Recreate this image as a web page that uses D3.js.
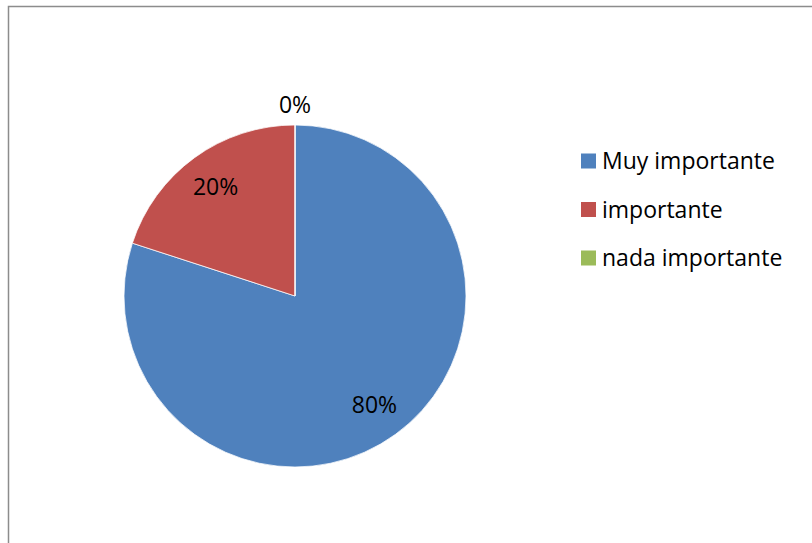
<!DOCTYPE html>
<html>
<head>
<meta charset="utf-8">
<script src="https://cdn.jsdelivr.net/npm/d3@7"></script>
<style>
  html, body { margin: 0; padding: 0; background: #fff; }
  svg { display: block; font-family: "Open Sans", sans-serif; }
</style>
</head>
<body>
<svg id="chart" width="812" height="543"></svg>
<script>
const categories = ["Muy importante", "importante", "nada importante"];
const values = [80, 20, 0];
const labels = ["80%", "20%", "0%"];
const colors = ["#4F81BD", "#C0504D", "#9BBB59"];

const svg = d3.select("#chart");

// chart frame (runs off the right and bottom edges)
svg.append("rect")
  .attr("x", 8.5).attr("y", 6.5)
  .attr("width", 820).attr("height", 560)
  .attr("fill", "#fff")
  .attr("stroke", "#8c8c8c")
  .attr("stroke-width", 1.5);

const cx = 295, cy = 296, r = 171;

const pie = d3.pie().sort(null).value(d => d.value);
const data = categories.map((c, i) => ({ name: c, value: values[i], label: labels[i], color: colors[i] }));
const arcs = pie(data);

const arc = d3.arc().innerRadius(0).outerRadius(r);
const labelArc = d3.arc().innerRadius(r * 0.79).outerRadius(r * 0.79);
const outerLabelArc = d3.arc().innerRadius(r * 1.12).outerRadius(r * 1.12);

const g = svg.append("g").attr("transform", `translate(${cx},${cy})`);

g.selectAll("path")
  .data(arcs)
  .join("path")
  .attr("d", arc)
  .attr("fill", d => d.data.color)
  .attr("stroke", "#fff")
  .attr("stroke-width", 0.75);

g.selectAll("text")
  .data(arcs)
  .join("text")
  .attr("transform", d => `translate(${(d.data.value === 0 ? outerLabelArc : labelArc).centroid(d)})`)
  .attr("text-anchor", "middle")
  .attr("dy", "0.35em")
  .attr("font-size", 23)
  .attr("fill", "#000")
  .text(d => d.data.label);

// legend
const legendY = d3.scalePoint().domain(categories).range([161, 258]);
const legend = svg.append("g")
  .selectAll("g")
  .data(data)
  .join("g")
  .attr("transform", d => `translate(581,${legendY(d.name)})`);

legend.append("rect")
  .attr("x", 0).attr("y", -7.5)
  .attr("width", 15).attr("height", 15)
  .attr("fill", d => d.color);

legend.append("text")
  .attr("x", 21)
  .attr("dy", "0.35em")
  .attr("font-size", 23)
  .attr("fill", "#000")
  .text(d => d.name);
</script>
</body>
</html>
